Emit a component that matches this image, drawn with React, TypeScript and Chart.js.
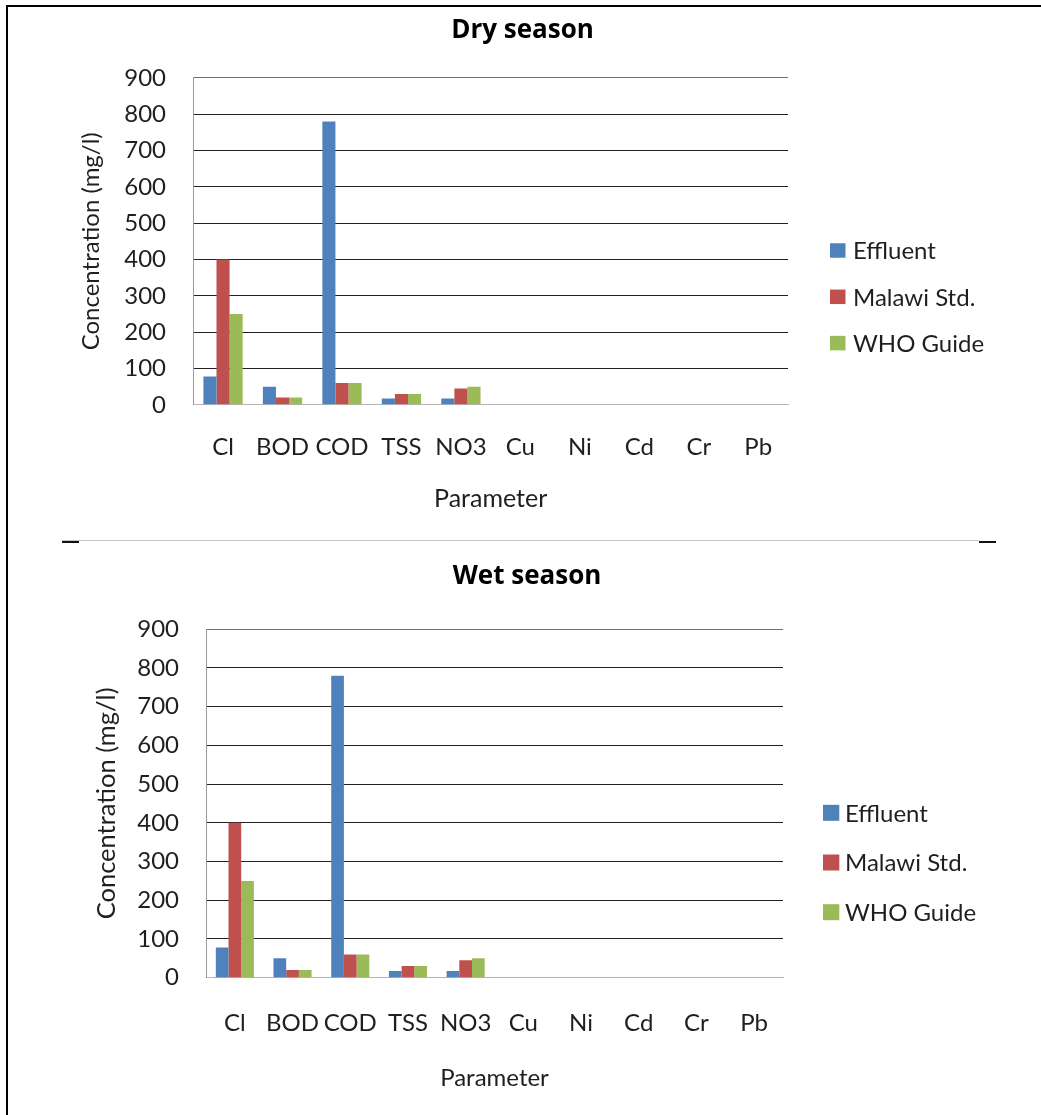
import React, { useEffect, useRef } from 'react';
import { Chart, registerables } from 'chart.js';

Chart.register(...registerables);

// Parameters measured in the effluent samples
const categories = ['Cl', 'BOD', 'COD', 'TSS', 'NO3', 'Cu', 'Ni', 'Cd', 'Cr', 'Pb'];
const seriesNames = ['Effluent', 'Malawi Std.', 'WHO Guide'];
const seriesColors = ['#4F81BD', '#C0504D', '#9BBB59'];

// Concentration axis (mg/l)
const yMin = 0;
const yMax = 900;
const yStep = 100;

// Dry season concentrations (mg/l)
const dryEffluent = [78, 50, 780, 17, 17, 0, 0, 0, 0, 0];
const dryMalawi = [400, 20, 60, 30, 45, 0, 0, 0, 0, 0];
const dryWho = [250, 20, 60, 30, 50, 0, 0, 0, 0, 0];

// Wet season concentrations (mg/l)
const wetEffluent = [78, 50, 780, 17, 17, 0, 0, 0, 0, 0];
const wetMalawi = [400, 20, 60, 30, 45, 0, 0, 0, 0, 0];
const wetWho = [250, 20, 60, 30, 50, 0, 0, 0, 0, 0];

const FONT = 'Lato';
const TITLE_FONT = '"Open Sans"';
const TEXT = '#1f1f1f';

type Panel = {
  title: string;
  series: number[][];
  left: number;
  top: number;
  width: number;
  height: number;
  titleSize: number;
  tickSize: number;
  yTitleSize: number;
  xTitleSize: number;
  titlePad: { top: number; bottom: number };
  yWidth: number;
  yTickPad: number;
  yTitlePad: number;
  xHeight: number;
  xTickPad: number;
  xTitlePad: number;
  plotRight: number;
  key: { x: number; y: number; step: number; boxW: number; boxH: number; textX: number; size: number };
};

const dryPanel: Panel = {
  title: 'Dry season',
  series: [dryEffluent, dryMalawi, dryWho],
  left: 8,
  top: 8,
  width: 1029,
  height: 530,
  titleSize: 26,
  tickSize: 24,
  yTitleSize: 24,
  xTitleSize: 25,
  titlePad: { top: 6.9, bottom: 31.7 },
  yWidth: 185.3,
  yTickPad: 27.3,
  yTitlePad: 69.3,
  xHeight: 133.2,
  xTickPad: 27.8,
  xTitlePad: 24,
  plotRight: 780,
  key: { x: 822, y: 242.5, step: 46.3, boxW: 15.5, boxH: 14.5, textX: 845, size: 24 },
};

const wetPanel: Panel = {
  title: 'Wet season',
  series: [wetEffluent, wetMalawi, wetWho],
  left: 8,
  top: 544,
  width: 1038,
  height: 571,
  titleSize: 26,
  tickSize: 24,
  yTitleSize: 25.5,
  xTitleSize: 24,
  titlePad: { top: 17.3, bottom: 36.7 },
  yWidth: 198,
  yTickPad: 27,
  yTitlePad: 83.4,
  xHeight: 137.3,
  xTickPad: 30.8,
  xTitlePad: 22.6,
  plotRight: 775,
  key: { x: 815, y: 268.8, step: 49.7, boxW: 16.3, boxH: 16, textX: 837, size: 24 },
};

// Series key drawn to the right of the plot, one square + label per dataset
const seriesKey = {
  id: 'seriesKey',
  afterDraw(chart: any, _args: any, opts: any) {
    const { ctx } = chart;
    ctx.save();
    ctx.font = `${opts.size}px ${FONT}`;
    ctx.textBaseline = 'middle';
    ctx.textAlign = 'left';
    chart.data.datasets.forEach((ds: any, i: number) => {
      const cy = opts.y + i * opts.step;
      ctx.fillStyle = ds.backgroundColor;
      ctx.fillRect(opts.x, cy - opts.boxH / 2, opts.boxW, opts.boxH);
      ctx.fillStyle = TEXT;
      ctx.fillText(ds.label, opts.textX, cy + 1);
    });
    ctx.restore();
  },
};

function buildConfig(p: Panel): any {
  return {
    type: 'bar',
    data: {
      labels: categories,
      datasets: p.series.map((values, i) => ({
        label: seriesNames[i],
        data: values,
        yAxisID: 'y',
        backgroundColor: seriesColors[i],
        borderWidth: 0,
        categoryPercentage: 0.66,
        barPercentage: 1,
      })),
    },
    plugins: [seriesKey],
    options: {
      responsive: false,
      animation: false,
      devicePixelRatio: 1,
      layout: { padding: 0 },
      plugins: {
        legend: { display: false },
        tooltip: { enabled: false },
        title: {
          display: true,
          text: p.title,
          color: '#000',
          font: { family: TITLE_FONT, size: p.titleSize, weight: 'bold' },
          padding: p.titlePad,
        },
        seriesKey: p.key,
      },
      scales: {
        x: {
          grid: { display: false, drawTicks: false },
          border: { display: true, color: '#b4b4b4', width: 1 },
          ticks: {
            color: TEXT,
            padding: p.xTickPad,
            font: { family: FONT, size: p.tickSize },
            maxRotation: 0,
            autoSkip: false,
          },
          title: {
            display: true,
            text: 'Parameter',
            color: TEXT,
            font: { family: FONT, size: p.xTitleSize },
            padding: { top: 0, bottom: p.xTitlePad },
          },
          afterFit: (s: any) => {
            s.height = p.xHeight;
          },
        },
        y: {
          min: yMin,
          max: yMax,
          grid: {
            drawTicks: false,
            lineWidth: 1,
            color: (c: any) =>
              c.tick && c.tick.value === yMax
                ? '#707070'
                : c.tick && c.tick.value === yMin
                ? 'rgba(0,0,0,0)'
                : '#222222',
          },
          border: { display: true, color: '#9a9a9a', width: 1 },
          ticks: {
            stepSize: yStep,
            color: TEXT,
            padding: p.yTickPad,
            font: { family: FONT, size: p.tickSize },
          },
          title: {
            display: true,
            text: 'Concentration (mg/l)',
            color: TEXT,
            font: { family: FONT, size: p.yTitleSize },
            padding: { top: p.yTitlePad, bottom: 0 },
          },
          afterFit: (s: any) => {
            s.width = p.yWidth;
          },
        },
        // empty band on the right that holds the series key
        keyBand: {
          type: 'linear',
          axis: 'y',
          position: 'right',
          display: true,
          grid: { display: false, drawTicks: false },
          border: { display: false },
          ticks: { display: false },
          afterFit: (s: any) => {
            s.width = p.width - p.plotRight;
          },
        },
      },
    },
  };
}

function SeasonChart({ panel }: { panel: Panel }) {
  const ref = useRef<HTMLCanvasElement>(null);
  useEffect(() => {
    const chart = new Chart(ref.current as HTMLCanvasElement, buildConfig(panel));
    return () => chart.destroy();
  }, [panel]);
  return (
    <canvas
      ref={ref}
      width={panel.width}
      height={panel.height}
      style={{ position: 'absolute', left: panel.left, top: panel.top, width: panel.width, height: panel.height }}
    />
  );
}

export default function App() {
  return (
    <div
      style={{
        position: 'absolute',
        left: 0,
        top: 0,
        width: 1041,
        height: 1115,
        overflow: 'hidden',
        background: '#fff',
      }}
    >
      <SeasonChart panel={dryPanel} />
      <SeasonChart panel={wetPanel} />
      {/* frame: top and left rules */}
      <div style={{ position: 'absolute', left: 6, top: 5, right: 0, height: 0, borderTop: '2px solid #000' }} />
      <div style={{ position: 'absolute', left: 6, top: 5, bottom: 0, width: 0, borderLeft: '2px solid #000' }} />
      {/* divider between the two seasons */}
      <div style={{ position: 'absolute', left: 62, top: 540, width: 917, height: 1, background: '#c4c4c4' }} />
      <div style={{ position: 'absolute', left: 62, top: 541, width: 17, height: 2, background: '#111' }} />
      <div style={{ position: 'absolute', left: 979, top: 541, width: 17, height: 2, background: '#111' }} />
    </div>
  );
}
